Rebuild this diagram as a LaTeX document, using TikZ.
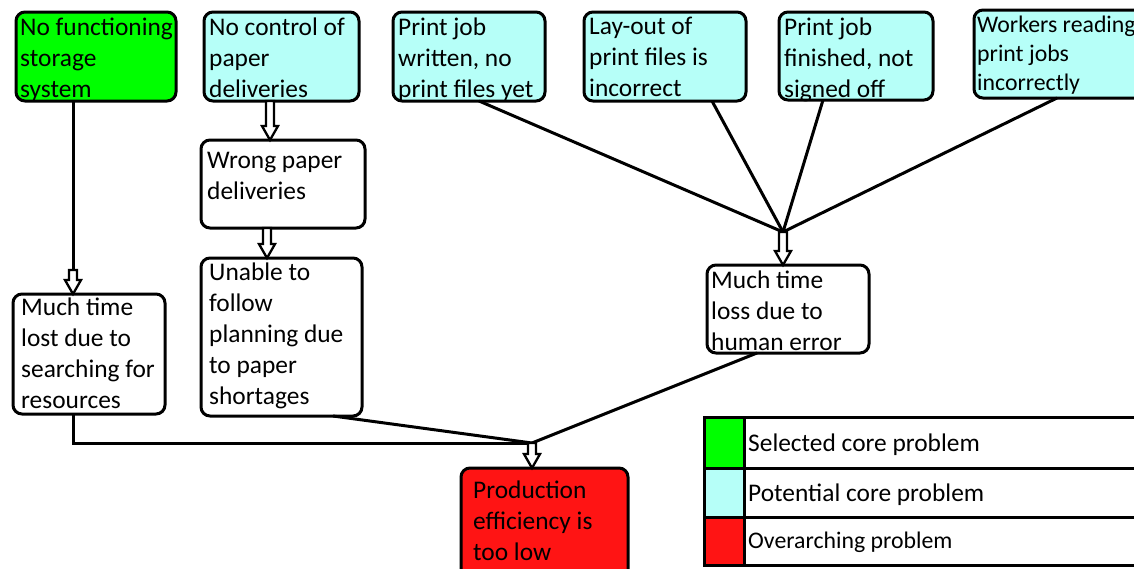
\documentclass[tikz,border=0pt]{standalone}
\usepackage{fontspec}
\setmainfont{Carlito}
\usetikzlibrary{calc}
\definecolor{selgreen}{RGB}{0,255,0}
\definecolor{potcyan}{RGB}{182,255,248}
\definecolor{overred}{RGB}{255,20,20}

% hollow block arrow pointing down from #1 to the tip #2
\newcommand\blockarr[2]{%
  \draw[harr] ($(#1)+(-4,0)$) -- ($(#2)+(-4,-14)$) -- ($(#2)+(-8,-14)$) -- (#2)
    -- ($(#2)+(8,-14)$) -- ($(#2)+(4,-14)$) -- ($(#1)+(4,0)$) -- cycle;}

\begin{document}
\begin{tikzpicture}[x=1pt,y=-1pt,
  box/.style={draw, line width=3pt, rounded corners=9pt, anchor=north west,
    inner sep=0pt, outer sep=0pt},
  % the strut keeps the top of each label at a fixed height above its first baseline
  lbl/.style={anchor=north west, inner sep=0pt, align=left,
    font=\fontsize{25.4}{31}\selectfont, execute at begin node=\strut},
  lblsmall/.style={lbl, font=\fontsize{23.8}{29}\selectfont},
  conn/.style={line width=3pt},
  harr/.style={line width=2.3pt, fill=white, line join=miter},
  legcell/.style={draw, line width=3pt, anchor=north west, inner sep=0pt, outer sep=0pt}]
\useasboundingbox (0,0) rectangle (1134,568);
\clip (0,0) rectangle (1134,568);

% top row of causes
\node[box, fill=selgreen, minimum width=160pt, minimum height=89pt] (n1) at (16,12) {};
\node[lbl] (t1) at ($(n1.north west)+(4,5.3)$) {No functioning\\storage\\system};
\node[box, fill=potcyan, minimum width=155pt, minimum height=89pt] (n2) at (204,12) {};
\node[lbl] (t2) at ($(n2.north west)+(5,5.3)$) {No control of\\paper\\deliveries};
\node[box, fill=potcyan, minimum width=152pt, minimum height=89pt] (n3) at (393,12) {};
\node[lbl] (t3) at ($(n3.north west)+(5,5.3)$) {Print job\\written, no\\print files yet};
\node[box, fill=potcyan, minimum width=162pt, minimum height=89pt] (n4) at (584,12) {};
\node[lbl] (t4) at ($(n4.north west)+(5,5.3)$) {Lay-out of\\print files is\\incorrect};
\node[box, fill=potcyan, minimum width=154pt, minimum height=88pt] (n5) at (779,12) {};
\node[lbl] (t5) at ($(n5.north west)+(5,5.3)$) {Print job\\finished, not\\signed off};
\node[box, fill=potcyan, minimum width=170pt, minimum height=88pt] (n6) at (974,10) {};
\node[lblsmall] (t6) at ($(n6.north west)+(3,6.2)$) {Workers reading\\print jobs\\incorrectly};

% intermediate effects
\node[box, fill=white, minimum width=164pt, minimum height=88pt] (n7) at (201,140) {};
\node[lbl] (t7) at ($(n7.north west)+(6,12.3)$) {Wrong paper\\deliveries};
\node[box, fill=white, minimum width=161pt, minimum height=158pt] (n8) at (201,258) {};
\node[lbl] (t8) at ($(n8.north west)+(8,4.8)$) {Unable to\\follow\\planning due\\to paper\\shortages};
\node[box, fill=white, minimum width=152pt, minimum height=120pt] (n9) at (13,294) {};
\node[lbl] (t9) at ($(n9.north west)+(8,3.8)$) {Much time\\lost due to\\searching for\\resources};
\node[box, fill=white, minimum width=162pt, minimum height=88pt] (n10) at (707,265) {};
\node[lbl] (t10) at ($(n10.north west)+(4,5.3)$) {Much time\\loss due to\\human error};

% overarching problem
\node[box, fill=overred, minimum width=167pt, minimum height=112pt] (n11) at (461,468) {};
\node[lbl] (t11) at ($(n11.north west)+(12,12.3)$) {Production\\efficiency is\\too low};

% connector points
\coordinate (k1) at ($(n1.south west)+(57,0)$);
\coordinate (k1b) at (k1 |- 0,270);
\coordinate (k1t) at (k1 |- n9.north);
\coordinate (k2) at (270,0);
\coordinate (k2s) at (k2 |- n2.south);
\coordinate (k2t) at (k2 |- n7.north);
\coordinate (k3) at (267,0);
\coordinate (k3s) at (k3 |- n7.south);
\coordinate (k3t) at (k3 |- n8.north);
\coordinate (hub) at (783,232);
\coordinate (hubt) at (hub |- n10.north);
\coordinate (low) at (532,443);
\coordinate (lowt) at (low |- n11.north);
\coordinate (k9) at ($(n9.south west)+(60,0)$);

% arrows and connectors
\draw[conn] (k1) -- (k1b);
\blockarr{k1b}{k1t}
\blockarr{k2s}{k2t}
\blockarr{k3s}{k3t}
\draw[conn] ($(n3.south west)+(86,0)$) -- (hub);
\draw[conn] ($(n4.south west)+(128,0)$) -- (hub);
\draw[conn] ($(n5.south west)+(44,0)$) -- (hub);
\draw[conn] ($(n6.south west)+(83,0)$) -- (hub);
\blockarr{hub}{hubt}
\draw[conn] (k9) -- (k9 |- low) -- (low);
\draw[conn] ($(n8.south west)+(132,0)$) -- (low);
\draw[conn] ($(n10.south west)+(50,0)$) -- (low);
\blockarr{low}{lowt}

% legend
\node[legcell, fill=selgreen, minimum width=40pt, minimum height=51pt] (lg1) at (704,417) {};
\node[legcell, fill=potcyan, minimum width=40pt, minimum height=49pt] (lg2) at (lg1.south west) {};
\node[legcell, fill=overred, minimum width=40pt, minimum height=48pt] (lg3) at (lg2.south west) {};
\node[legcell, minimum width=420pt, minimum height=51pt] (lr1) at (lg1.north east) {};
\node[legcell, minimum width=420pt, minimum height=49pt] (lr2) at (lg2.north east) {};
\node[legcell, minimum width=420pt, minimum height=48pt] (lr3) at (lg3.north east) {};
\node[lbl] (lt1) at (748,429.3) {Selected core problem};
\node[lbl] (lt2) at (748,479.3) {Potential core problem};
\node[lblsmall] (lt3) at (748,527.7) {Overarching problem};
\end{tikzpicture}
\end{document}
